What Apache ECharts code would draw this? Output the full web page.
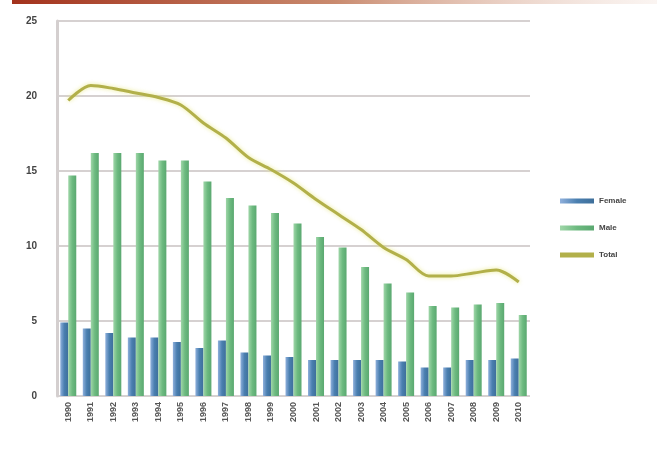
<!DOCTYPE html>
<html>
<head>
<meta charset="utf-8">
<script src="https://cdn.jsdelivr.net/npm/echarts@6/dist/echarts.min.js"></script>
<style>
  html, body { margin: 0; padding: 0; background: #fff; }
  #chart { width: 657px; height: 450px; }
</style>
</head>
<body>
<div id="chart"></div>
<script>
// data
const years = ['1990','1991','1992','1993','1994','1995','1996','1997','1998','1999','2000',
               '2001','2002','2003','2004','2005','2006','2007','2008','2009','2010'];
const female = [4.9, 4.5, 4.2, 3.9, 3.9, 3.6, 3.2, 3.7, 2.9, 2.7, 2.6,
                2.4, 2.4, 2.4, 2.4, 2.3, 1.9, 1.9, 2.4, 2.4, 2.5];
const male = [14.7, 16.2, 16.2, 16.2, 15.7, 15.7, 14.3, 13.2, 12.7, 12.2, 11.5,
              10.6, 9.9, 8.6, 7.5, 6.9, 6.0, 5.9, 6.1, 6.2, 5.4];
const total = [19.7, 20.7, 20.5, 20.2, 19.9, 19.4, 18.2, 17.2, 15.9, 15.1, 14.2,
               13.1, 12.1, 11.1, 9.9, 9.1, 8.0, 8.0, 8.2, 8.4, 7.6];
const yTicks = [0, 5, 10, 15, 20, 25];

var myChart = echarts.init(document.getElementById('chart'));

var option = {
  animation: false,
  backgroundColor: '#ffffff',
  textStyle: { fontFamily: 'Liberation Sans' },
  graphic: [
    { // red strip at the top
      type: 'rect',
      shape: { x: 12, y: 0, width: 645, height: 4 },
      style: {
        fill: new echarts.graphic.LinearGradient(0, 0, 1, 0, [
          { offset: 0, color: '#a3321c' },
          { offset: 0.5, color: '#c98a6e' },
          { offset: 1, color: 'rgba(240,220,210,0.3)' }
        ])
      }
    }
  ],
  grid: { left: 57, right: 127, top: 21, bottom: 54 },
  legend: {
    orient: 'vertical',
    left: 555,
    top: 192,
    itemWidth: 34,
    itemHeight: 5,
    itemGap: 19,
    textStyle: { color: '#444', fontSize: 8, fontWeight: 'bold' },
    data: [
      { name: 'Female', icon: 'rect' },
      { name: 'Male', icon: 'rect' },
      { name: 'Total', icon: 'rect' }
    ]
  },
  xAxis: {
    type: 'category',
    data: years,
    axisTick: { show: false },
    axisLine: { show: false },
    axisLabel: { rotate: 90, color: '#555', fontSize: 9, fontWeight: 'bold', margin: 6, interval: 0 }
  },
  yAxis: {
    type: 'value',
    min: 0,
    max: 25,
    interval: 5,
    axisLine: { show: true, lineStyle: { color: '#d4cfcf', width: 3 } },
    axisTick: { show: false },
    axisLabel: {
      color: '#444', fontSize: 10, fontWeight: 'bold', margin: 20,
      formatter: function (v) { return yTicks.indexOf(v) >= 0 ? String(v) : ''; }
    },
    splitLine: { lineStyle: { color: '#d6d1d1', width: 2 } }
  },
  series: [
    {
      name: 'Female',
      type: 'bar',
      data: female,
      barWidth: 8,
      barGap: '0%',
      itemStyle: {
        color: new echarts.graphic.LinearGradient(0, 0, 1, 0, [
          { offset: 0, color: '#8fb0dc' },
          { offset: 0.5, color: '#4a7fb0' },
          { offset: 1, color: '#3e6f9a' }
        ])
      }
    },
    {
      name: 'Male',
      type: 'bar',
      data: male,
      barWidth: 8,
      itemStyle: {
        color: new echarts.graphic.LinearGradient(0, 0, 1, 0, [
          { offset: 0, color: '#9fd6a8' },
          { offset: 0.5, color: '#6dba80' },
          { offset: 1, color: '#5aa870' }
        ])
      }
    },
    {
      name: 'Total',
      type: 'line',
      data: total,
      smooth: 0.3,
      symbol: 'none',
      itemStyle: { color: '#b2b04a' },
      lineStyle: {
        color: '#b2b04a',
        width: 3,
        shadowColor: 'rgba(230,230,120,0.8)',
        shadowBlur: 4
      }
    }
  ]
};

myChart.setOption(option);
</script>
</body>
</html>
